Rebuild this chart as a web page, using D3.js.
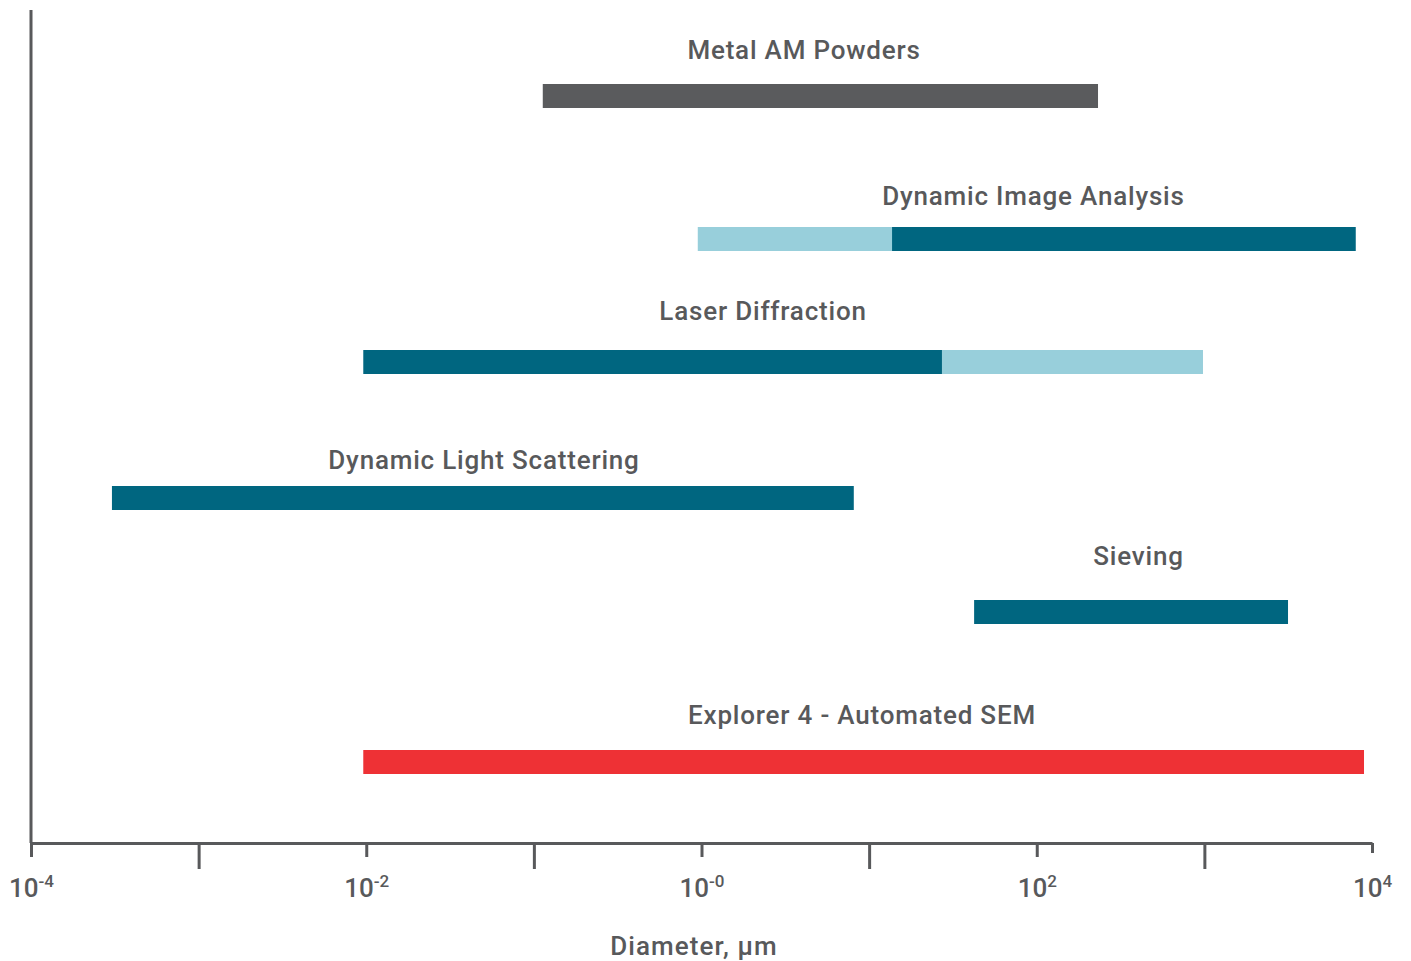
<!DOCTYPE html>
<html>
<head>
    <title>Particle Sizing Ranges</title>
    <script src="https://cdn.jsdelivr.net/npm/d3@7"></script>
    <style>
        body { margin: 0; background: #fff; }
        text { font-family: Roboto, "Liberation Sans", Arial, sans-serif; fill: #58595b; }
    </style>
</head>
<body>
    <div id="chart"></div>

    <script>
        // Techniques, top to bottom
        var techniques = ["Metal AM Powders", "Dynamic Image Analysis", "Laser Diffraction",
                          "Dynamic Light Scattering", "Sieving", "Explorer 4 - Automated SEM"];

        // Size range segments (µm) per technique: [from, to, kind]
        var segments = [
            [[0.113, 232, "sample"]],
            [[0.95, 13.7, "extended"], [13.7, 8000, "core"]],
            [[0.0096, 27.2, "core"], [27.2, 981, "extended"]],
            [[0.000304, 8.1, "core"]],
            [[42.3, 3155, "core"]],
            [[0.0096, 8960, "sem"]]
        ];

        // Where each title sits along the size axis (µm, centre of the text)
        var labelAt = [4.09, 95.6, 2.33, 0.0504, 405, 9.07];

        // Axis ticks: every decade, labels (exponent text) on the even ones
        var tickValues = [1e-4, 1e-3, 1e-2, 1e-1, 1, 1e1, 1e2, 1e3, 1e4];
        var tickExponents = ["-4", null, "-2", null, "-0", null, "2", null, "4"];
        var axisTitle = "Diameter, µm";

        // layout
        var width = 1411, height = 961;
        var rowTop = [84, 227, 350, 486, 600, 750];
        var labelGap = [25, 22, 30, 17, 35, 26];
        var barH = 24;
        var axisY = 843;

        var colors = { sample: "#5a5b5d", core: "#006680", extended: "#98cfdb", sem: "#ee3135" };

        var svg = d3.select("#chart")
            .append("svg")
            .attr("width", width)
            .attr("height", height);

        var x = d3.scaleLog()
            .domain([1e-4, 1e4])
            .range([31, 1372]);

        // bars
        var rows = svg.selectAll(".row")
            .data(techniques)
            .enter()
            .append("g")
            .attr("class", "row")
            .attr("transform", function(d, i) { return "translate(0," + rowTop[i] + ")"; });

        rows.selectAll("rect")
            .data(function(d, i) { return segments[i]; })
            .enter()
            .append("rect")
            .attr("x", function(d) { return x(d[0]); })
            .attr("width", function(d) { return x(d[1]) - x(d[0]); })
            .attr("y", 0)
            .attr("height", barH)
            .style("fill", function(d) { return colors[d[2]]; });

        rows.append("text")
            .attr("x", function(d, i) { return x(labelAt[i]); })
            .attr("y", function(d, i) { return -labelGap[i]; })
            .attr("text-anchor", "middle")
            .style("font-size", "26px")
            .style("font-weight", "500")
            .style("letter-spacing", "0.8px")
            .text(function(d) { return d; });

        // x axis
        var xAxis = d3.axisBottom(x)
            .tickValues(tickValues)
            .tickSizeOuter(0)
            .tickFormat("");

        var gx = svg.append("g")
            .attr("transform", "translate(0," + axisY + ")")
            .call(xAxis);

        gx.select(".domain")
            .attr("stroke", "#58595b")
            .attr("stroke-width", 3);

        gx.selectAll(".tick line")
            .attr("stroke", "#58595b")
            .attr("stroke-width", 3)
            .attr("y2", function(d, i) {
                if (i === tickValues.length - 1) return 10;
                return i % 2 === 0 ? 14 : 26;
            });

        gx.selectAll(".tick text").remove();

        gx.selectAll(".tick")
            .filter(function(d, i) { return tickExponents[i] !== null; })
            .append("text")
            .attr("y", 54)
            .attr("text-anchor", "middle")
            .attr("fill", "#58595b")
            .style("font-size", "26px")
            .style("font-weight", "500")
            .each(function(d) {
                var i = tickValues.indexOf(d);
                var t = d3.select(this);
                t.append("tspan").text("10");
                t.append("tspan")
                    .attr("dy", -10)
                    .style("font-size", "17px")
                    .text(tickExponents[i]);
            });

        // y axis line (no ticks)
        svg.append("line")
            .attr("x1", 31).attr("x2", 31)
            .attr("y1", 10).attr("y2", axisY)
            .attr("stroke", "#58595b")
            .attr("stroke-width", 3);

        // axis title
        svg.append("text")
            .attr("x", 694)
            .attr("y", 955)
            .attr("text-anchor", "middle")
            .style("font-size", "26px")
            .style("font-weight", "500")
            .style("letter-spacing", "1.1px")
            .text(axisTitle);
    </script>
</body>
</html>
